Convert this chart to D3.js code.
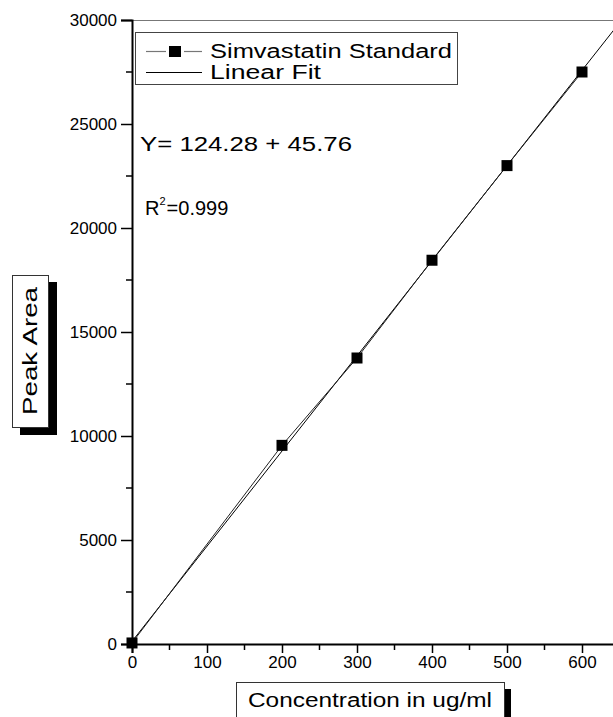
<!DOCTYPE html>
<html>
<head>
<meta charset="utf-8">
<script src="https://cdn.jsdelivr.net/npm/d3@7"></script>
<style>
  body { margin: 0; background: #fff; }
  svg { display: block; font-family: "Liberation Sans", Arial, sans-serif; }
</style>
</head>
<body>
<div id="chart"></div>
<script>
// data
var concentration = [0, 200, 300, 400, 500, 600];
var peakArea = [50, 9550, 13750, 18450, 23000, 27500];
var fitIntercept = 124.28;
var fitSlope = 45.76;
var xTicks = [0, 100, 200, 300, 400, 500, 600];
var yTicks = [0, 5000, 10000, 15000, 20000, 25000, 30000];

var W = 613, H = 717;
var mLeft = 132, mBottom = 644, mTop = 20;

var svg = d3.select("#chart").append("svg")
    .attr("width", W)
    .attr("height", H);

var x = d3.scaleLinear().domain([0, 700]).range([mLeft, mLeft + 7 * 75]);
var y = d3.scaleLinear().domain([0, 30000]).range([mBottom, mTop]);

// top frame line (right side is cropped)
svg.append("line")
    .attr("x1", mLeft).attr("x2", W)
    .attr("y1", mTop + 0.5).attr("y2", mTop + 0.5)
    .attr("stroke", "#777").attr("stroke-width", 1);

// minor ticks
svg.append("g").selectAll("line")
    .data(d3.range(2500, 30000, 5000))
    .enter().append("line")
    .attr("x1", mLeft - 6).attr("x2", mLeft)
    .attr("y1", function(d) { return y(d); })
    .attr("y2", function(d) { return y(d); })
    .attr("stroke", "#000").attr("stroke-width", 1.5);

svg.append("g").selectAll("line")
    .data(d3.range(50, 700, 100))
    .enter().append("line")
    .attr("x1", function(d) { return x(d); })
    .attr("x2", function(d) { return x(d); })
    .attr("y1", mBottom).attr("y2", mBottom + 6)
    .attr("stroke", "#000").attr("stroke-width", 1.5);

// Y axis
var yAxis = svg.append("g")
    .attr("transform", "translate(" + mLeft + ",0)")
    .call(d3.axisLeft(y).tickValues(yTicks).tickSize(11).tickPadding(4).tickFormat(d3.format("d")));
yAxis.select(".domain").attr("stroke-width", 2);
yAxis.selectAll(".tick line").attr("stroke-width", 1.5);
yAxis.selectAll("text").attr("font-size", 17).attr("fill", "#000")
    .attr("font-family", "Liberation Sans, Arial, sans-serif");

// X axis
var xAxis = svg.append("g")
    .attr("transform", "translate(0," + mBottom + ")")
    .call(d3.axisBottom(x).tickValues(xTicks).tickSize(9).tickPadding(3).tickFormat(d3.format("d")));
xAxis.select(".domain").attr("stroke-width", 2);
xAxis.selectAll(".tick line").attr("stroke-width", 1.5);
xAxis.selectAll("text").attr("font-size", 17).attr("fill", "#000")
    .attr("font-family", "Liberation Sans, Arial, sans-serif");

// clip to plot area
svg.append("clipPath").attr("id", "plot")
    .append("rect").attr("x", mLeft).attr("y", mTop).attr("width", W - mLeft).attr("height", mBottom - mTop);

var plot = svg.append("g").attr("clip-path", "url(#plot)");

// linear fit
var fitX = [0, 700];
plot.append("line")
    .attr("x1", x(fitX[0])).attr("y1", y(fitIntercept + fitSlope * fitX[0]))
    .attr("x2", x(fitX[1])).attr("y2", y(fitIntercept + fitSlope * fitX[1]))
    .attr("stroke", "#000").attr("stroke-width", 1);

// data line
var pts = concentration.map(function(c, i) { return [c, peakArea[i]]; });
plot.append("path")
    .datum(pts)
    .attr("fill", "none")
    .attr("stroke", "#222").attr("stroke-width", 1)
    .attr("d", d3.line().x(function(d) { return x(d[0]); }).y(function(d) { return y(d[1]); }));

svg.append("g").selectAll("rect")
    .data(pts)
    .enter().append("rect")
    .attr("x", function(d) { return x(d[0]) - 5.5; })
    .attr("y", function(d) { return y(d[1]) - 5.5; })
    .attr("width", 11).attr("height", 11)
    .attr("fill", "#000");

// legend
var lg = svg.append("g");
lg.append("rect").attr("x", 135.5).attr("y", 32.5).attr("width", 322).attr("height", 52)
    .attr("fill", "#fff").attr("stroke", "#444").attr("stroke-width", 1);
lg.append("line").attr("x1", 146).attr("x2", 166).attr("y1", 51.5).attr("y2", 51.5)
    .attr("stroke", "#777").attr("stroke-width", 1.2);
lg.append("line").attr("x1", 184).attr("x2", 202).attr("y1", 51.5).attr("y2", 51.5)
    .attr("stroke", "#777").attr("stroke-width", 1.2);
lg.append("rect").attr("x", 169).attr("y", 46).attr("width", 12).attr("height", 11).attr("fill", "#000");
lg.append("line").attr("x1", 146).attr("x2", 202).attr("y1", 72.5).attr("y2", 72.5)
    .attr("stroke", "#000").attr("stroke-width", 1);
lg.append("text").attr("x", 210).attr("y", 58).attr("font-size", 20)
    .attr("textLength", 242).attr("lengthAdjust", "spacingAndGlyphs").text("Simvastatin Standard");
lg.append("text").attr("x", 210).attr("y", 79).attr("font-size", 20)
    .attr("textLength", 111).attr("lengthAdjust", "spacingAndGlyphs").text("Linear Fit");

// equation text
svg.append("text").attr("x", 140).attr("y", 151).attr("font-size", 20)
    .attr("textLength", 212).attr("lengthAdjust", "spacingAndGlyphs").text("Y= 124.28 + 45.76");
var r2 = svg.append("text").attr("x", 145).attr("y", 215).attr("font-size", 20);
r2.append("tspan").text("R");
r2.append("tspan").attr("dy", -10).attr("font-size", 11).text("2");
r2.append("tspan").attr("dy", 10).attr("dx", 1).text("=0.999");

// y axis title box with shadow
svg.append("rect").attr("x", 20).attr("y", 282).attr("width", 37).attr("height", 153).attr("fill", "#000");
svg.append("rect").attr("x", 12.5).attr("y", 275.5).attr("width", 36).attr("height", 152)
    .attr("fill", "#fff").attr("stroke", "#333").attr("stroke-width", 1);
svg.append("text")
    .attr("transform", "translate(37,351) rotate(-90)")
    .attr("text-anchor", "middle")
    .attr("font-size", 20)
    .attr("textLength", 128).attr("lengthAdjust", "spacingAndGlyphs")
    .text("Peak Area");

// x axis title box with shadow
svg.append("rect").attr("x", 245).attr("y", 689).attr("width", 266).attr("height", 30).attr("fill", "#000");
svg.append("rect").attr("x", 236.5).attr("y", 682.5).attr("width", 268).attr("height", 36)
    .attr("fill", "#fff").attr("stroke", "#333").attr("stroke-width", 1);
svg.append("text")
    .attr("x", 370).attr("y", 707)
    .attr("text-anchor", "middle")
    .attr("font-size", 20)
    .attr("textLength", 244).attr("lengthAdjust", "spacingAndGlyphs")
    .text("Concentration in ug/ml");
</script>
</body>
</html>
